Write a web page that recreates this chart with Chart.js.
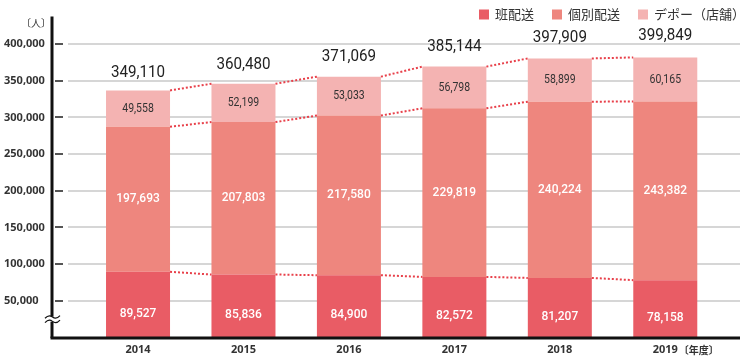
<!DOCTYPE html>
<html>
<head>
<meta charset="utf-8">
<script src="https://cdn.jsdelivr.net/npm/chart.js@4"></script>
<style>
  html, body { margin: 0; padding: 0; background: #fff; }
  #wrap { width: 750px; height: 357px; position: relative; }
</style>
</head>
<body>
<div id="wrap"><canvas id="c" width="750" height="357"></canvas></div>
<script>
// ---- data ----
const years = ['2014', '2015', '2016', '2017', '2018', '2019'];
const seriesNames = ['班配送', '個別配送', 'デポー（店舗）'];
const hanHaiso = [89527, 85836, 84900, 82572, 81207, 78158];
const kobetsuHaiso = [197693, 207803, 217580, 229819, 240224, 243382];
const depot = [49558, 52199, 53033, 56798, 58899, 60165];
const totals = [349110, 360480, 371069, 385144, 397909, 399849];
const yTickValues = [0, 50000, 100000, 150000, 200000, 250000, 300000, 350000, 400000];
const unitLabel = '〔人〕';
const yearSuffix = '〔年度〕';

// ---- styles ----
const colors = ['#E95C65', '#EE867E', '#F4B3B2'];
const numFont = '"Roboto", "Noto Sans", sans-serif';
const jpFont = '"Noto Sans CJK JP", "Noto Sans", sans-serif';
const fmt = v => v.toLocaleString('en-US');

function squeezeText(ctx, text, x, y, sx) {
  ctx.save();
  ctx.translate(x, y);
  ctx.scale(sx, 1);
  ctx.fillText(text, 0, 0);
  ctx.restore();
}

const decoPlugin = {
  id: 'deco',
  beforeDatasetsDraw(chart) {
    const ctx = chart.ctx;
    const ys = chart.scales.y;
    ctx.save();
    ys.ticks.forEach(t => {
      if (t.value === 0) return;
      const y = Math.round(ys.getPixelForValue(t.value));
      ctx.strokeStyle = '#c8c8c8';
      ctx.lineWidth = 1.5;
      ctx.beginPath(); ctx.moveTo(68, y); ctx.lineTo(740, y); ctx.stroke();
      ctx.strokeStyle = '#555';
      ctx.lineWidth = 2;
      ctx.beginPath(); ctx.moveTo(55, y); ctx.lineTo(63, y); ctx.stroke();
    });
    ctx.restore();
  },
  afterDatasetsDraw(chart) {
    const ctx = chart.ctx;
    const ys = chart.scales.y;
    const xs = chart.scales.x;
    ctx.save();

    // dotted connector lines between bar segment tops
    ctx.strokeStyle = '#E8404A';
    ctx.lineWidth = 2;
    ctx.setLineDash([2, 2]);
    chart.data.datasets.forEach((ds, i) => {
      const meta = chart.getDatasetMeta(i);
      for (let j = 0; j < meta.data.length - 1; j++) {
        const a = meta.data[j], b = meta.data[j + 1];
        ctx.beginPath();
        ctx.moveTo(a.x + a.width / 2, a.y);
        ctx.lineTo(b.x - b.width / 2, b.y);
        ctx.stroke();
      }
    });
    ctx.setLineDash([]);

    // segment labels
    ctx.textAlign = 'center';
    ctx.textBaseline = 'middle';
    chart.data.datasets.forEach((ds, i) => {
      const meta = chart.getDatasetMeta(i);
      meta.data.forEach((bar, j) => {
        const cy = (bar.y + bar.base) / 2 + (i === 0 ? 9 : 0);
        if (i < 2) {
          ctx.font = '500 12px ' + numFont;
          ctx.fillStyle = '#ffffff';
          ctx.fillText(fmt(ds.data[j]), bar.x, cy);
        } else {
          ctx.font = '12.5px ' + numFont;
          ctx.fillStyle = '#333333';
          squeezeText(ctx, fmt(ds.data[j]), bar.x, cy, 0.84);
        }
      });
    });

    // totals above the bars
    ctx.font = '16.5px ' + numFont;
    ctx.fillStyle = '#222';
    totals.forEach((t, j) => {
      squeezeText(ctx, fmt(t), xs.getPixelForValue(j), ys.getPixelForValue(t) - 8, 0.92);
    });

    // axis lines
    ctx.strokeStyle = '#111';
    ctx.lineWidth = 3;
    ctx.beginPath(); ctx.moveTo(52, 16.5); ctx.lineTo(52, 338); ctx.stroke();
    ctx.beginPath(); ctx.moveTo(50.5, 338); ctx.lineTo(740, 338); ctx.stroke();

    // axis break mark
    const by = ys.getPixelForValue(25000);
    ctx.fillStyle = '#fff';
    ctx.fillRect(49, by - 2.5, 7, 5);
    ctx.strokeStyle = '#111';
    ctx.lineWidth = 1.2;
    [by - 2.2, by + 2.2].forEach(y => {
      ctx.beginPath();
      ctx.moveTo(45, y + 1.3);
      ctx.bezierCurveTo(48, y - 2, 50, y - 2, 52.5, y);
      ctx.bezierCurveTo(55, y + 2, 57, y + 2, 60, y - 1.3);
      ctx.stroke();
    });

    // unit label
    ctx.font = '10px ' + jpFont;
    ctx.fillStyle = '#333';
    ctx.textAlign = 'center';
    ctx.fillText(unitLabel, 36, 23);

    // year suffix on last tick
    ctx.font = 'bold 11px "Noto Sans", sans-serif';
    const lastX = xs.getPixelForValue(years.length - 1);
    const w = ctx.measureText(years[years.length - 1]).width;
    ctx.font = 'bold 10px ' + jpFont;
    ctx.textAlign = 'left';
    ctx.fillText(yearSuffix, lastX + w / 2 + 1, 350.5);

    // legend
    ctx.font = '13px ' + jpFont;
    ctx.textBaseline = 'middle';
    const boxW = 10, gapT = 6, gapI = 18;
    const widths = seriesNames.map(n => ctx.measureText(n).width);
    const total = widths.reduce((s, v) => s + v + boxW + gapT, 0) + gapI * (seriesNames.length - 1);
    let x = 745 - total;
    seriesNames.forEach((n, i) => {
      ctx.fillStyle = colors[i];
      ctx.fillRect(x, 9.5, boxW, boxW);
      ctx.fillStyle = '#333';
      ctx.fillText(n, x + boxW + gapT, 14.5);
      x += boxW + gapT + widths[i] + gapI;
    });
    ctx.restore();
  }
};

const ds = [hanHaiso, kobetsuHaiso, depot].map((arr, i) => ({
  label: seriesNames[i],
  data: arr,
  backgroundColor: colors[i],
  borderWidth: 0,
  barPercentage: 0.607,
  categoryPercentage: 1.0
}));

new Chart(document.getElementById('c'), {
  type: 'bar',
  data: { labels: years, datasets: ds },
  options: {
    responsive: false,
    devicePixelRatio: 1,
    animation: false,
    layout: { padding: { top: 44, right: 32, bottom: 0, left: 4 } },
    plugins: { legend: { display: false }, tooltip: { enabled: false } },
    scales: {
      x: {
        stacked: true,
        grid: { display: false, drawTicks: false },
        border: { display: false },
        ticks: { font: { family: '"Noto Sans", sans-serif', weight: 'bold', size: 11 }, color: '#333', padding: 6, maxRotation: 0 },
        afterFit(s) { s.height = 19.5; }
      },
      y: {
        stacked: true,
        min: 0,
        max: 400000,
        afterBuildTicks(s) { s.ticks = yTickValues.map(v => ({ value: v })); },
        ticks: {
          callback: v => (v === 0 ? '' : fmt(v)),
          font: { family: '"Noto Sans", sans-serif', weight: 'bold', size: 11 },
          color: '#333',
          padding: 0,
          crossAlign: 'far'
        },
        grid: { display: false, drawTicks: false },
        border: { display: false },
        afterFit(s) { s.width = 81.3; }
      }
    }
  },
  plugins: [decoPlugin]
});
</script>
</body>
</html>
